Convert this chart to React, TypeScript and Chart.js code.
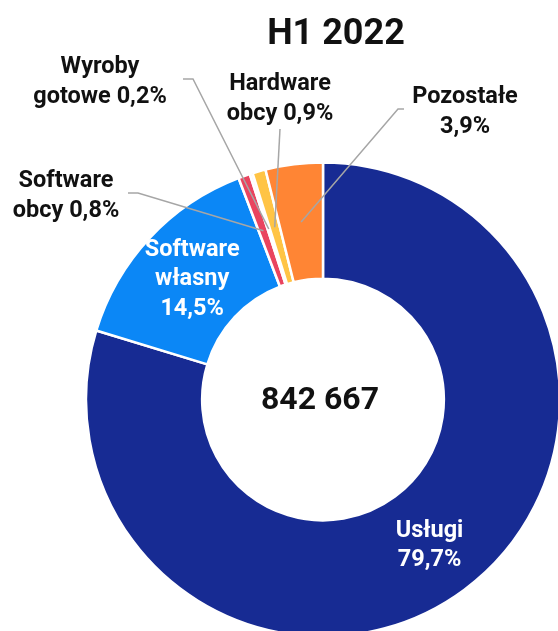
import React, { useEffect, useRef } from 'react';
import { Chart, registerables } from 'chart.js';

Chart.register(...registerables);

// ---- data ----
const title = 'H1 2022';
const totalLabel = '842 667';
const categories = ['Usługi', 'Software własny', 'Software obcy', 'Wyroby gotowe', 'Hardware obcy', 'Pozostałe'];
const shares = [79.7, 14.5, 0.8, 0.2, 0.9, 3.9];
const nameLines = [['Usługi'], ['Software', 'własny'], ['Software', 'obcy'], ['Wyroby', 'gotowe'], ['Hardware', 'obcy'], ['Pozostałe']];
const pctOnNewLine = [true, true, false, false, false, true];
const insideLabel = [true, true, false, false, false, false];
const colors = ['#172B93', '#0B87F6', '#E9445F', '#F4F4F4', '#FFC445', '#FF8534'];

// ---- layout of outside labels (pixels) ----
const outsideLayout: Record<number, { x: number; y: number; leader: [number, number][] }> = {
  2: { x: 66, y: 187, leader: [[128, 193], [138, 193]] },
  3: { x: 100, y: 73, leader: [[183, 79], [193, 79]] },
  4: { x: 280, y: 90, leader: [[280, 129]] },
  5: { x: 465, y: 103, leader: [[404, 109], [398, 109]] },
};

const FONT = 'Roboto, "Noto Sans", "DejaVu Sans", sans-serif';
const LINE_H = 29.5;

const fmtPct = (v: number) => v.toFixed(1).replace('.', ',') + '%';

function buildLines(i: number): string[] {
  const lines = [...nameLines[i]];
  const p = fmtPct(shares[i]);
  if (pctOnNewLine[i]) lines.push(p);
  else lines[lines.length - 1] = lines[lines.length - 1] + ' ' + p;
  return lines;
}

const labelPlugin = {
  id: 'customLabels',
  afterDatasetsDraw(chart: any) {
    const ctx = chart.ctx as CanvasRenderingContext2D;
    const meta = chart.getDatasetMeta(0);
    ctx.save();
    // leader lines
    ctx.strokeStyle = '#A6A6A6';
    ctx.lineWidth = 1.5;
    Object.keys(outsideLayout).forEach((k) => {
      const i = Number(k);
      const L = outsideLayout[i];
      const arc = meta.data[i];
      const c = arc.getCenterPoint();
      ctx.beginPath();
      ctx.moveTo(L.leader[0][0], L.leader[0][1]);
      for (let j = 1; j < L.leader.length; j++) ctx.lineTo(L.leader[j][0], L.leader[j][1]);
      ctx.lineTo(c.x, c.y);
      ctx.stroke();
    });

    ctx.textAlign = 'center';
    ctx.textBaseline = 'alphabetic';
    ctx.font = `bold 23.5px ${FONT}`;
    // outside labels
    Object.keys(outsideLayout).forEach((k) => {
      const i = Number(k);
      const L = outsideLayout[i];
      ctx.fillStyle = '#111111';
      buildLines(i).forEach((t, j) => ctx.fillText(t, L.x, L.y + j * LINE_H));
    });
    // inside labels
    categories.forEach((_, i) => {
      if (!insideLabel[i]) return;
      const c = meta.data[i].getCenterPoint();
      const lines = buildLines(i);
      ctx.fillStyle = '#FFFFFF';
      lines.forEach((t, j) => {
        ctx.fillText(t, c.x, c.y + 8 + (j - (lines.length - 1) / 2) * LINE_H);
      });
    });

    // center total
    const cx = meta.data[0].x;
    const cy = meta.data[0].y;
    ctx.fillStyle = '#111111';
    ctx.font = `bold 32px ${FONT}`;
    ctx.fillText(totalLabel, cx - 3, cy + 9);

    // title
    ctx.font = `bold 36px ${FONT}`;
    ctx.fillText(title, 336, 44);
    ctx.restore();
  },
};

export default function App() {
  const ref = useRef<HTMLCanvasElement>(null);
  useEffect(() => {
    document.body.style.margin = '0';
    document.body.style.overflow = 'hidden';
    const chart = new Chart(ref.current!, {
      type: 'doughnut',
      data: {
        labels: categories,
        datasets: [
          {
            data: shares,
            backgroundColor: colors,
            borderColor: '#FFFFFF',
            borderWidth: 2.5,
            clip: false,
            radius: 237,
            cutout: '51%',
          } as any,
        ],
      },
      options: {
        responsive: false,
        animation: false,
        radius: 237,
        cutout: '51%',
        layout: { padding: { left: 88, top: 168, right: 0, bottom: 0 } },
        plugins: { legend: { display: false }, tooltip: { enabled: false } },
      } as any,
      plugins: [labelPlugin],
    });
    return () => chart.destroy();
  }, []);
  return (
    <div style={{ width: 558, height: 631, overflow: 'hidden', position: 'relative', background: '#fff' }}>
      <canvas ref={ref} width={558} height={631} style={{ display: 'block' }} />
    </div>
  );
}
